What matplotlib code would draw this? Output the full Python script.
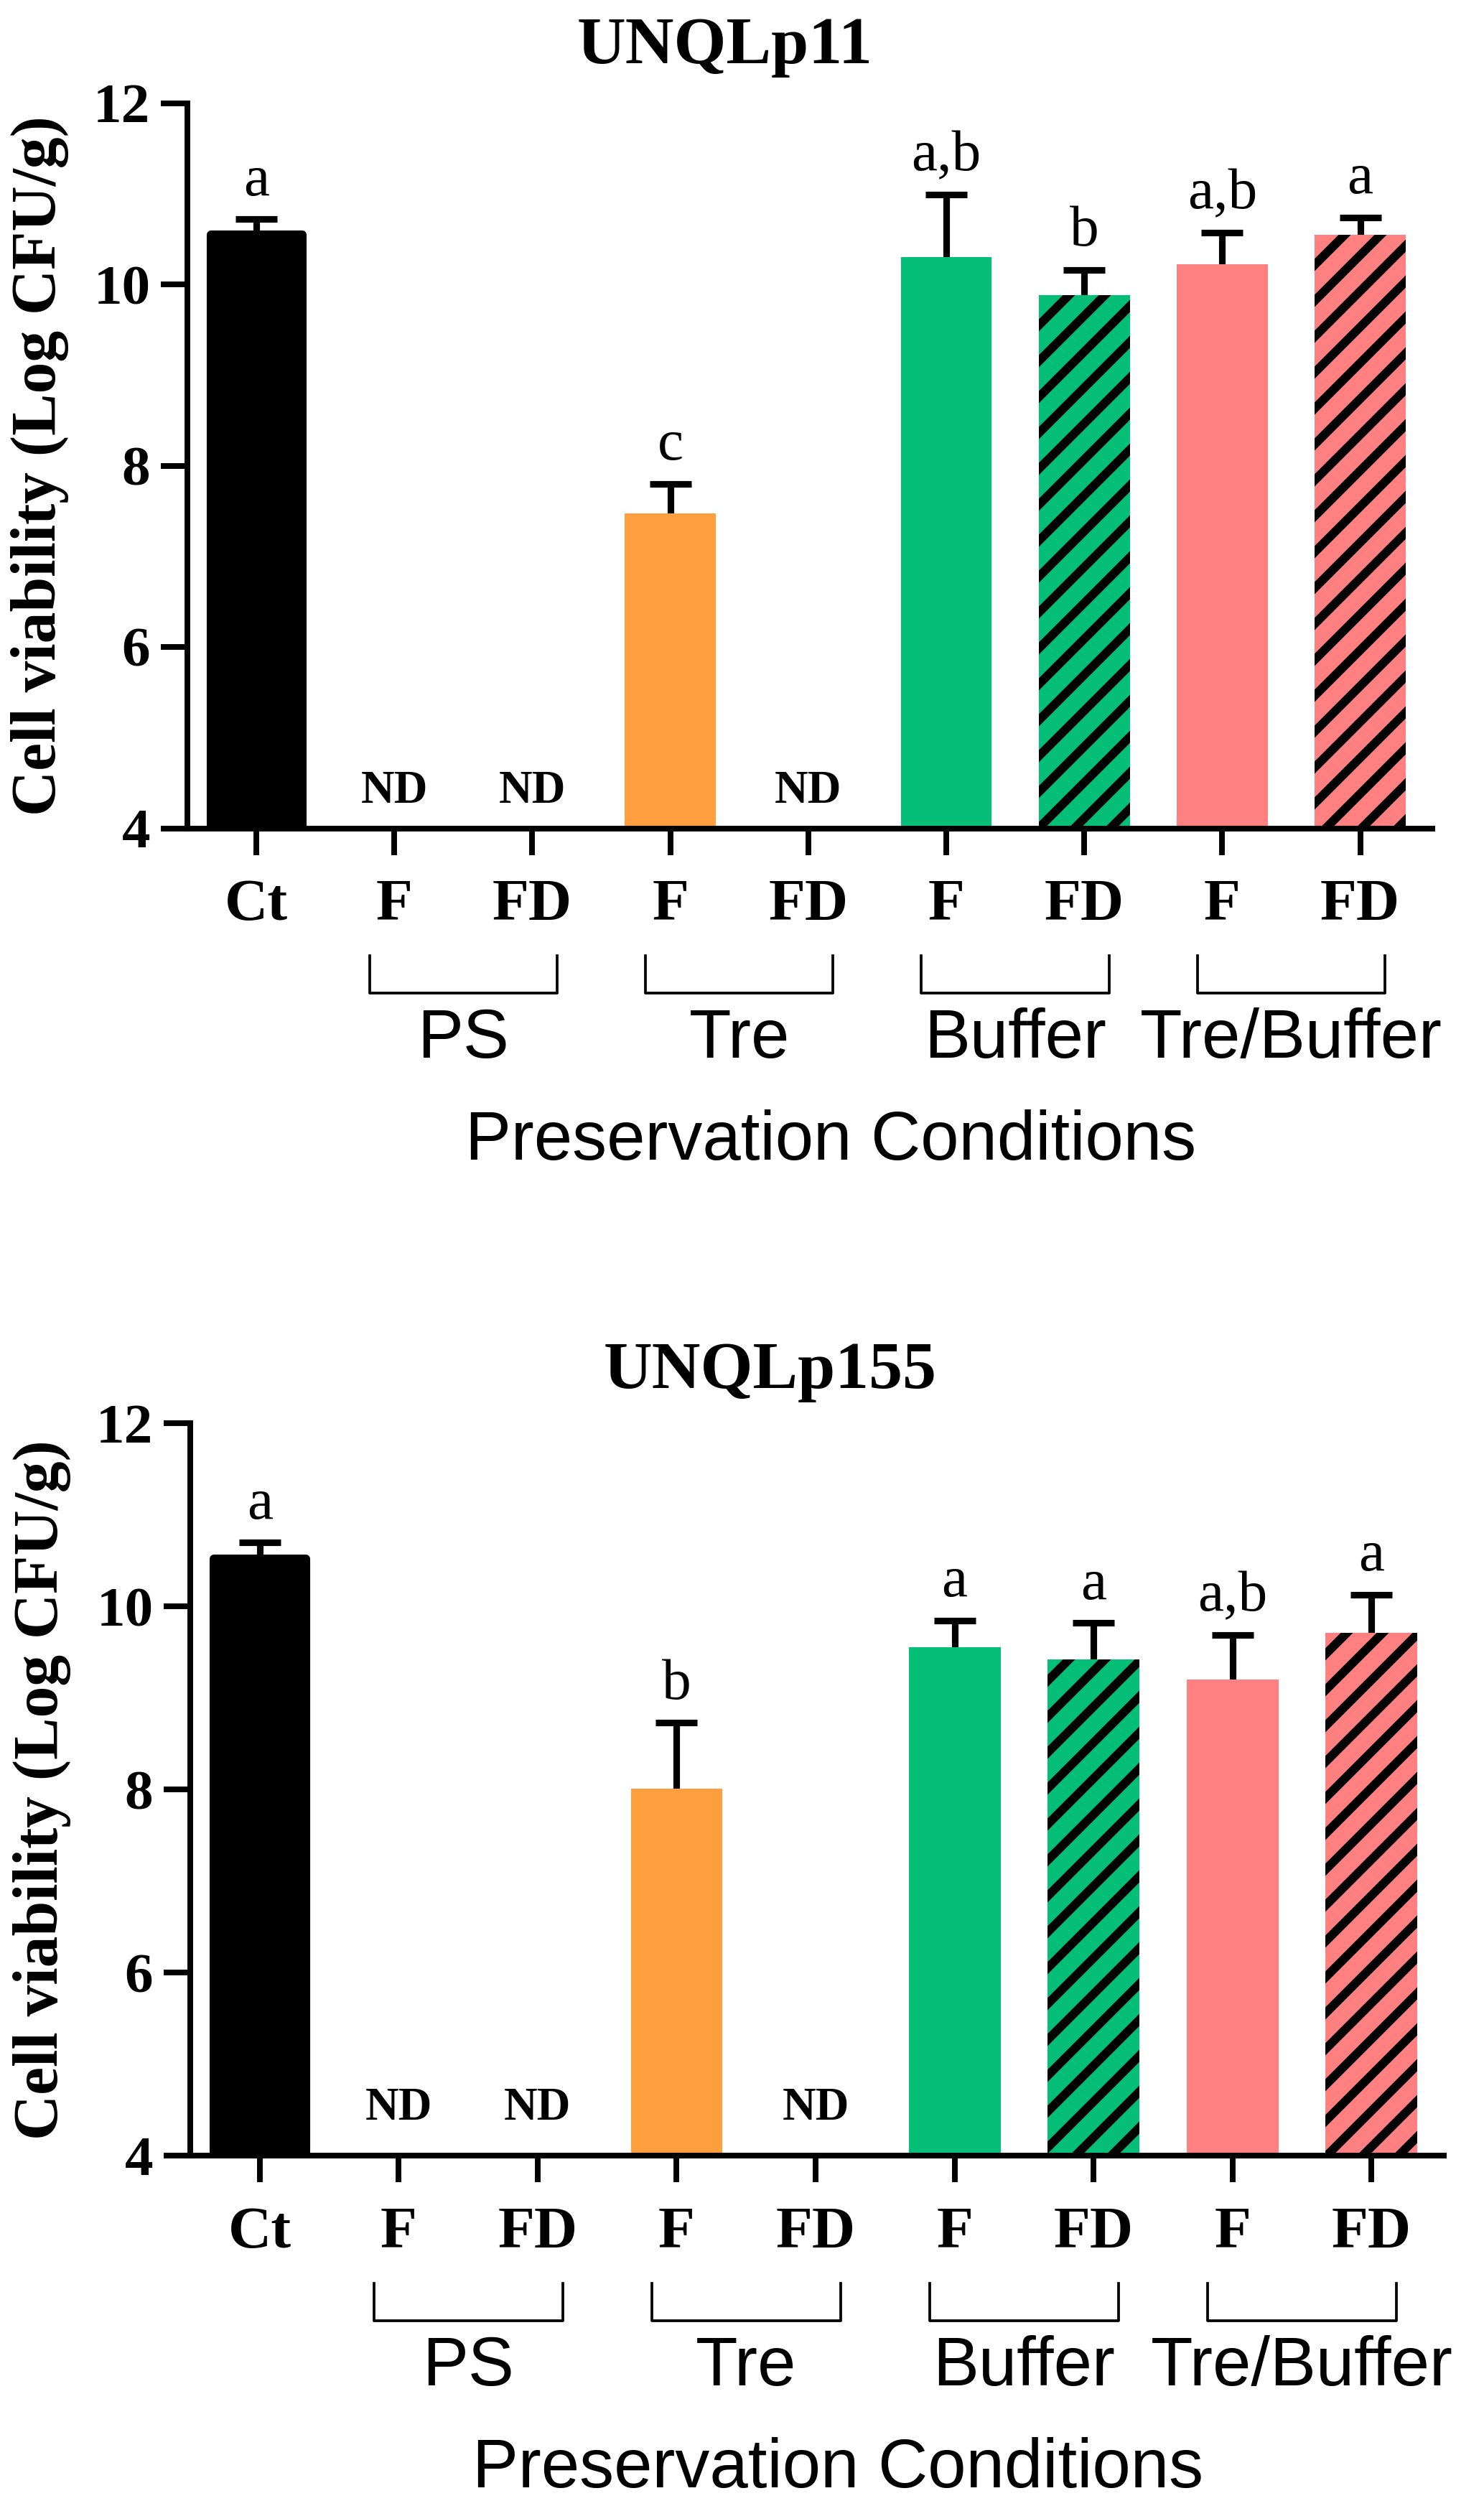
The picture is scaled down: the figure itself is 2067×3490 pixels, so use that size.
import matplotlib
matplotlib.use('Agg')
import matplotlib.pyplot as plt
import numpy as np

# bar order: Ct, PS F, PS FD, Tre F, Tre FD, Buffer F, Buffer FD, Tre/Buffer F, Tre/Buffer FD
conditions = ['Ct', 'F', 'FD', 'F', 'FD', 'F', 'FD', 'F', 'FD']
groups = ['PS', 'Tre', 'Buffer', 'Tre/Buffer']
group_members = [(1, 2), (3, 4), (5, 6), (7, 8)]
bar_colors = ['black', 'none', 'none', '#FF9F3F', 'none', '#05BE78', '#05BE78', '#FF8080', '#FF8080']
bar_hatch = ['', '', '', '', '', '', '//', '', '//']

strains = ['UNQLp11', 'UNQLp155']
means_lp11 = [10.55, np.nan, np.nan, 7.47, np.nan, 10.30, 9.88, 10.22, 10.55]
err_lp11 = [0.17, 0, 0, 0.33, 0, 0.69, 0.28, 0.35, 0.19]
letters_lp11 = ['a', 'ND', 'ND', 'c', 'ND', 'a,b', 'b', 'a,b', 'a']
means_lp155 = [10.52, np.nan, np.nan, 8.01, np.nan, 9.56, 9.42, 9.20, 9.71]
err_lp155 = [0.18, 0, 0, 0.72, 0, 0.29, 0.40, 0.49, 0.42]
letters_lp155 = ['a', 'ND', 'ND', 'b', 'ND', 'a', 'a', 'a,b', 'a']

W, H = 2067, 3490
DPI = 300
plt.rcParams['hatch.linewidth'] = 2.9
serif = 'Liberation Serif'
sans = 'Liberation Sans'

fig = plt.figure(figsize=(W / DPI, H / DPI), dpi=DPI)

# panel layout in pixels: left, bottom(axis line), width, height ; title x, title baseline ; ND offset
panels = [
    dict(rect=(261, 1153.5, 1733.6, 1010), title=(1010, 88), nd=8.5,
         means=means_lp11, errs=err_lp11, letters=letters_lp11, name=strains[0]),
    dict(rect=(265, 3002.4, 1746.0, 1020), title=(1073, 1933), nd=12,
         means=means_lp155, errs=err_lp155, letters=letters_lp155, name=strains[1]),
]

x = np.arange(len(conditions))

for p in panels:
    l, b, w, h = p['rect']
    ax = fig.add_axes([l / W, 1 - b / H, w / W, h / H])
    means = np.array(p['means'])
    errs = np.array(p['errs'])

    for i in range(len(x)):
        if np.isnan(means[i]):
            continue
        if i == 0:
            ax.bar(x[i], means[i], width=0.66, color=bar_colors[i], edgecolor='black',
                   linewidth=2.9, joinstyle='round', zorder=2)
        elif bar_hatch[i]:
            ax.bar(x[i], means[i], width=0.66, color=bar_colors[i], edgecolor='black',
                   linewidth=0, hatch=bar_hatch[i], zorder=2)
        else:
            ax.bar(x[i], means[i], width=0.66, color=bar_colors[i], linewidth=0, zorder=2)

    ok = ~np.isnan(means)
    eb = ax.errorbar(x[ok], means[ok], yerr=[np.zeros(ok.sum()), errs[ok]], fmt='none',
                     ecolor='black', elinewidth=2.2, capsize=7, capthick=2.2, zorder=1)
    # only the upper half is shown, hide the cap sitting on the bar top
    for cl in eb[1]:
        if np.allclose(cl.get_ydata(), means[ok]):
            cl.set_visible(False)

    for i, lab in enumerate(p['letters']):
        if lab == 'ND':
            ax.annotate(lab, (x[i], 4), xytext=(0, p['nd']), textcoords='offset points',
                        ha='center', va='baseline', fontsize=15.5, fontweight='bold',
                        family=serif, annotation_clip=False)
        else:
            ax.annotate(lab, (x[i], means[i] + errs[i]), xytext=(0, 8),
                        textcoords='offset points', ha='center', va='baseline',
                        fontsize=19.5, family=serif, annotation_clip=False)

    ax.set_xlim(-0.5, 8.52)
    ax.set_ylim(4, 12)
    ax.set_yticks([4, 6, 8, 10, 12])
    ax.set_xticks(x)
    ax.set_xticklabels(conditions)
    for t in ax.get_xticklabels() + ax.get_yticklabels():
        t.set_fontfamily(serif)
        t.set_fontweight('bold')
    for t in ax.get_xticklabels():
        t.set_fontsize(20)
    for t in ax.get_yticklabels():
        t.set_fontsize(19)
    ax.tick_params(axis='x', width=1.9, length=8.9, pad=8)
    ax.tick_params(axis='y', width=1.9, length=8.9, pad=3.5)
    for s in ['top', 'right']:
        ax.spines[s].set_visible(False)
    for s in ['left', 'bottom']:
        ax.spines[s].set_linewidth(1.9)

    ax.set_ylabel('Cell viability (Log CFU/g)', fontsize=21, fontweight='bold', family=serif)
    ax.yaxis.set_label_coords(-0.095, 0.5)

    trans = ax.get_xaxis_transform()
    y_top = -177.5 / h
    y_bot = -229.5 / h
    for g, (a, c) in zip(groups, group_members):
        cx = (x[a] + x[c]) / 2
        ax.plot([cx - 0.68, cx - 0.68, cx + 0.68, cx + 0.68], [y_top, y_bot, y_bot, y_top],
                color='black', linewidth=0.9, transform=trans, clip_on=False)
        ax.text(cx, -320 / h, g, transform=trans, ha='center', va='baseline',
                fontsize=23, family=sans)
    ax.text(4.16, -462 / h, 'Preservation Conditions', transform=trans, ha='center',
            va='baseline', fontsize=23, family=sans)

    tx, ty = p['title']
    fig.text(tx / W, 1 - ty / H, p['name'], ha='center', va='baseline', fontsize=22.5,
             fontweight='bold', family=serif)

fig.savefig('out.png', dpi=DPI)
